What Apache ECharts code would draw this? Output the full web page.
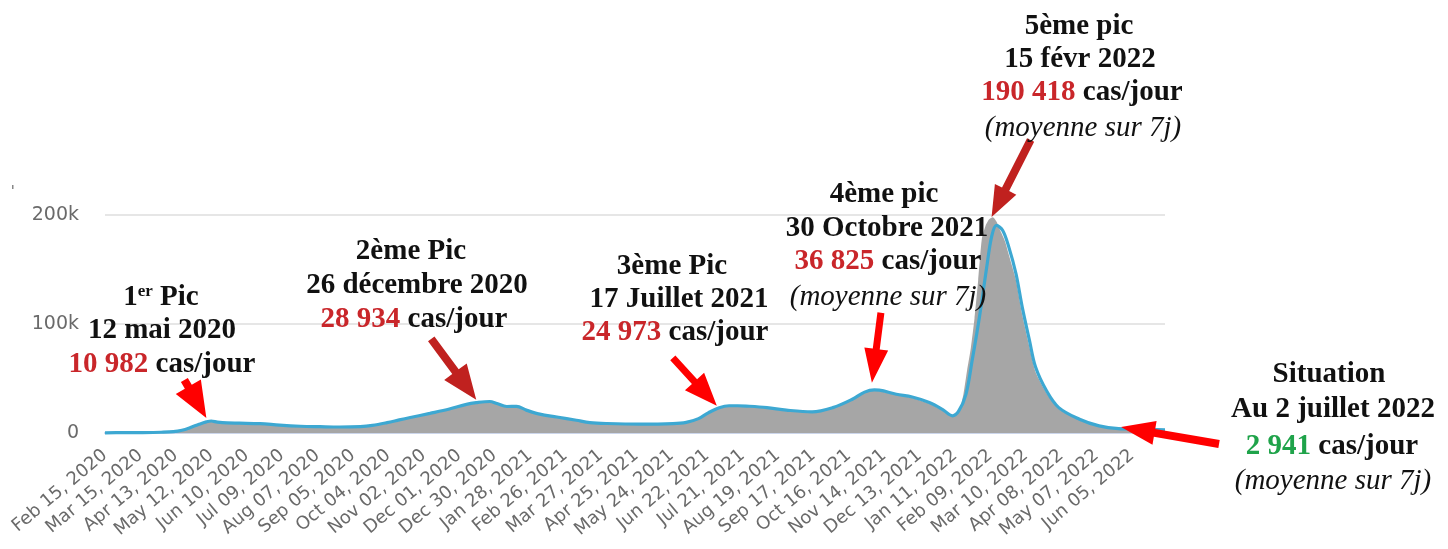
<!DOCTYPE html>
<html><head><meta charset="utf-8">
<script src="https://cdn.jsdelivr.net/npm/echarts@6/dist/echarts.min.js"></script>
<style>html,body{margin:0;padding:0;background:#fff;}#c{width:1448px;height:549px;}</style>
</head><body><div id="c"></div>
<script>
// ---- data (values in thousands of cases/day) ----
const startDate = '2020-02-15';
const endDate = '2022-07-02';
const avgDates = ['2020-02-15','2020-03-01','2020-03-16','2020-04-01','2020-04-11','2020-04-18','2020-04-25','2020-05-02','2020-05-08','2020-05-12','2020-05-17','2020-05-25','2020-06-04','2020-06-21','2020-07-07','2020-07-24','2020-08-09','2020-08-25','2020-09-11','2020-09-21','2020-10-03','2020-10-13','2020-10-22','2020-11-07','2020-11-23','2020-12-07','2020-12-15','2020-12-26','2021-01-01','2021-01-09','2021-01-17','2021-01-25','2021-02-05','2021-02-19','2021-03-07','2021-03-18','2021-04-01','2021-04-28','2021-05-25','2021-06-05','2021-06-15','2021-06-23','2021-07-02','2021-07-10','2021-07-17','2021-07-24','2021-08-10','2021-08-26','2021-09-16','2021-10-03','2021-10-19','2021-10-29','2021-11-06','2021-11-10','2021-11-24','2021-12-07','2021-12-21','2022-01-01','2022-01-09','2022-01-14','2022-01-20','2022-01-25','2022-01-31','2022-02-06','2022-02-10','2022-02-14','2022-02-19','2022-02-24','2022-03-02','2022-03-07','2022-03-13','2022-03-18','2022-03-27','2022-04-06','2022-04-23','2022-05-09','2022-05-25','2022-06-11','2022-07-02'];
const avgCases = [0.2,0.3,0.4,0.7,1.2,2.5,5.0,8.0,10.2,11.0,10.0,9.2,9.0,8.6,7.2,6.2,5.8,5.5,5.9,7.0,9.5,12.0,14.2,18.0,22.0,26.3,27.8,28.9,27.0,24.3,24.4,21.0,17.3,14.7,11.7,9.6,8.7,8.1,8.6,9.8,13.2,18.5,23.2,25.0,25.0,24.7,23.3,21.0,19.4,23.3,31.0,37.5,39.5,39.3,35.6,33.0,28.0,21.5,15.8,20.0,35.5,66.0,106,152,180,190.4,186,171,146,116,85,60.5,38.7,23.3,12.6,6.5,4.0,3.6,2.9];
const dailyDates = ['2020-02-15','2020-03-01','2020-03-16','2020-04-01','2020-04-11','2020-04-18','2020-04-25','2020-05-02','2020-05-08','2020-05-12','2020-05-17','2020-05-25','2020-06-04','2020-06-21','2020-07-07','2020-07-24','2020-08-09','2020-08-25','2020-09-11','2020-09-21','2020-10-03','2020-10-13','2020-10-22','2020-11-07','2020-11-23','2020-12-07','2020-12-15','2020-12-26','2021-01-01','2021-01-09','2021-01-17','2021-01-25','2021-02-05','2021-02-19','2021-03-07','2021-03-18','2021-04-01','2021-04-28','2021-05-25','2021-06-05','2021-06-15','2021-06-23','2021-07-02','2021-07-10','2021-07-17','2021-07-24','2021-08-10','2021-08-26','2021-09-16','2021-10-03','2021-10-19','2021-10-29','2021-11-06','2021-11-10','2021-11-24','2021-12-07','2021-12-21','2022-01-01','2022-01-09','2022-01-12','2022-01-15','2022-01-18','2022-01-21','2022-01-24','2022-01-27','2022-01-30','2022-02-02','2022-02-05','2022-02-08','2022-02-11','2022-02-14','2022-02-17','2022-02-21','2022-02-24','2022-03-02','2022-03-07','2022-03-13','2022-03-18','2022-03-27','2022-04-06','2022-04-23','2022-05-09','2022-05-25','2022-06-11','2022-07-02'];
const dailyCases = [0.1,0.2,0.3,0.6,1.3,2.8,5.2,8.2,10.4,10.8,9.5,8.8,8.6,8.1,6.8,5.8,5.4,5.1,5.6,6.8,9.2,11.6,13.8,17.5,21.4,25.6,27.0,28.4,26.3,23.6,23.8,20.3,16.6,14.0,11.2,9.1,8.3,7.7,8.2,9.6,13.6,19.0,23.4,24.6,24.5,24.0,22.6,20.3,18.9,23.0,31.2,37.8,38.8,38.5,34.8,32.2,27.0,20.5,15.0,17.5,22.0,36.0,58.0,78.0,105,140,178,190,196,198,194,186,176,164,140,109,79,56,36.5,22.0,11.8,6.0,3.6,3.3,2.7];
const yTicks = [0, 100000, 200000];
const yTickLabels = ['0', '100k', '200k'];
const monthNames = ['Jan','Feb','Mar','Apr','May','Jun','Jul','Aug','Sep','Oct','Nov','Dec'];
const labelEveryDays = 29;

// ---- helpers ----
const T0 = Date.UTC(2020, 1, 15);
function dayIndex(s){ const p = s.split('-').map(Number); return Math.round((Date.UTC(p[0], p[1]-1, p[2]) - T0) / 86400000); }
function fmtDay(d){ const t = new Date(T0 + Math.round(d) * 86400000); return monthNames[t.getUTCMonth()] + ' ' + String(t.getUTCDate()).padStart(2,'0') + ', ' + t.getUTCFullYear(); }
const lastDay = dayIndex(endDate);

const chart = echarts.init(document.getElementById('c'), null, {renderer: 'canvas'});
chart.setOption({
  animation: false,
  backgroundColor: '#fff',
  grid: {left: 105, right: 283, top: 215, bottom: 116},
  xAxis: {
    type: 'value', min: dayIndex(startDate), max: lastDay, interval: labelEveryDays,
    splitLine: {show: false}, axisTick: {show: false},
    axisLine: {show: true, lineStyle: {color: '#ccd6eb', width: 2}},
    axisLabel: {rotate: 40, formatter: fmtDay, showMaxLabel: false, fontSize: 18, color: '#6a6a6a', fontFamily: 'DejaVu Sans', margin: 20}
  },
  yAxis: {
    type: 'value', min: yTicks[0], max: yTicks[yTicks.length-1], interval: yTicks[1]-yTicks[0],
    axisLine: {show: false}, axisTick: {show: false},
    splitLine: {lineStyle: {color: '#e6e6e6', width: 2}},
    axisLabel: {formatter: v => yTickLabels[yTicks.indexOf(v)], fontSize: 19, color: '#6a6a6a', fontFamily: 'DejaVu Sans', margin: 26}
  },
  series: [
    {type: 'line', name: 'daily', data: dailyDates.map((d,i) => [dayIndex(d), dailyCases[i]*1000]),
     showSymbol: false, smooth: 0.2, clip: false, lineStyle: {width: 0}, areaStyle: {color: '#a6a6a6', opacity: 1}, z: 1, silent: true},
    {type: 'line', name: 'avg7', data: avgDates.map((d,i) => [dayIndex(d), avgCases[i]*1000]),
     showSymbol: false, smooth: 0.35, clip: false, lineStyle: {color: '#3da8d2', width: 3.2}, z: 2, silent: true}
  ]
});

// ---- annotations ----
const RED = '#ff0000', DARK = '#c0211f', NUM = '#c9262a', GREEN = '#1fa34a';
const B = 'bold 29px "Liberation Serif"', I = 'italic 29px "Liberation Serif"';
const rich = {r: {fill: NUM}, g: {fill: GREEN}, sup: {font: 'bold 17px "Liberation Serif"', verticalAlign: 'top', fill: '#111'}};
const lines = [
  [161,298,'1{sup|er} Pic',B],[162,331,'12 mai 2020',B],[162,365,'{r|10 982} cas/jour',B],
  [411,252,'2ème Pic',B],[417,286,'26 décembre 2020',B],[414,320,'{r|28 934} cas/jour',B],
  [672,267,'3ème Pic',B],[679,300,'17 Juillet 2021',B],[675,333,'{r|24 973} cas/jour',B],
  [884,195,'4ème pic',B],[887,229,'30 Octobre 2021',B],[888,262,'{r|36 825} cas/jour',B],[888,297,'(moyenne sur 7j)',I],
  [1079,27,'5ème pic',B],[1080,60,'15 févr 2022',B],[1082,93,'{r|190 418} cas/jour',B],[1083,128,'(moyenne sur 7j)',I],
  [1329,375,'Situation',B],[1333,410,'Au 2 juillet 2022',B],[1332,447,'{g|2 941} cas/jour',B],[1333,481,'(moyenne sur 7j)',I]
];
// arrows: tip anchored in data coords [day, cases]; tail offset in px
const arrows = [
  {tip: ['2020-05-08', 13800], off: [-22,-38], color: RED, hl: 36, hw: 29, sw: 8},
  {tip: ['2020-12-15', 30400], off: [-45,-61], color: DARK, hl: 35, hw: 28, sw: 8},
  {tip: ['2021-06-30', 24900], off: [-44,-48], color: RED, hl: 33, hw: 26, sw: 7},
  {tip: ['2021-11-04', 46100], off: [9,-70], color: RED, hl: 34, hw: 24, sw: 7},
  {tip: ['2022-02-10', 198200], off: [39,-77], color: DARK, hl: 31, hw: 24, sw: 8},
  {tip: ['2022-05-27', 5500], off: [98,17], color: RED, hl: 34, hw: 24, sw: 8}
];
function arrowPts(tail, tip, hl, hw, sw){
  const dx = tip[0]-tail[0], dy = tip[1]-tail[1], L = Math.hypot(dx,dy);
  const ux = dx/L, uy = dy/L, px = -uy, py = ux;
  const bx = tip[0]-ux*hl, by = tip[1]-uy*hl;
  return [[tail[0]+px*sw/2, tail[1]+py*sw/2],[bx+px*sw/2, by+py*sw/2],[bx+px*hw/2, by+py*hw/2],[tip[0],tip[1]],
          [bx-px*hw/2, by-py*hw/2],[bx-px*sw/2, by-py*sw/2],[tail[0]-px*sw/2, tail[1]-py*sw/2]];
}
const graphics = [];
graphics.push({type: 'rect', shape: {x: 12, y: 185, width: 1.5, height: 4}, style: {fill: '#888'}});
arrows.forEach(a => {
  const tip = chart.convertToPixel({gridIndex: 0}, [dayIndex(a.tip[0]), a.tip[1]]);
  const tail = [tip[0]+a.off[0], tip[1]+a.off[1]];
  graphics.push({type: 'polygon', z: 100, shape: {points: arrowPts(tail, tip, a.hl, a.hw, a.sw)}, style: {fill: a.color}});
});
lines.forEach(l => {
  graphics.push({type: 'text', z: 101, x: l[0], y: l[1], style: {text: l[2], font: l[3], fill: '#111', align: 'center', verticalAlign: 'middle', rich: rich}});
});
chart.setOption({graphic: graphics});
</script></body></html>
